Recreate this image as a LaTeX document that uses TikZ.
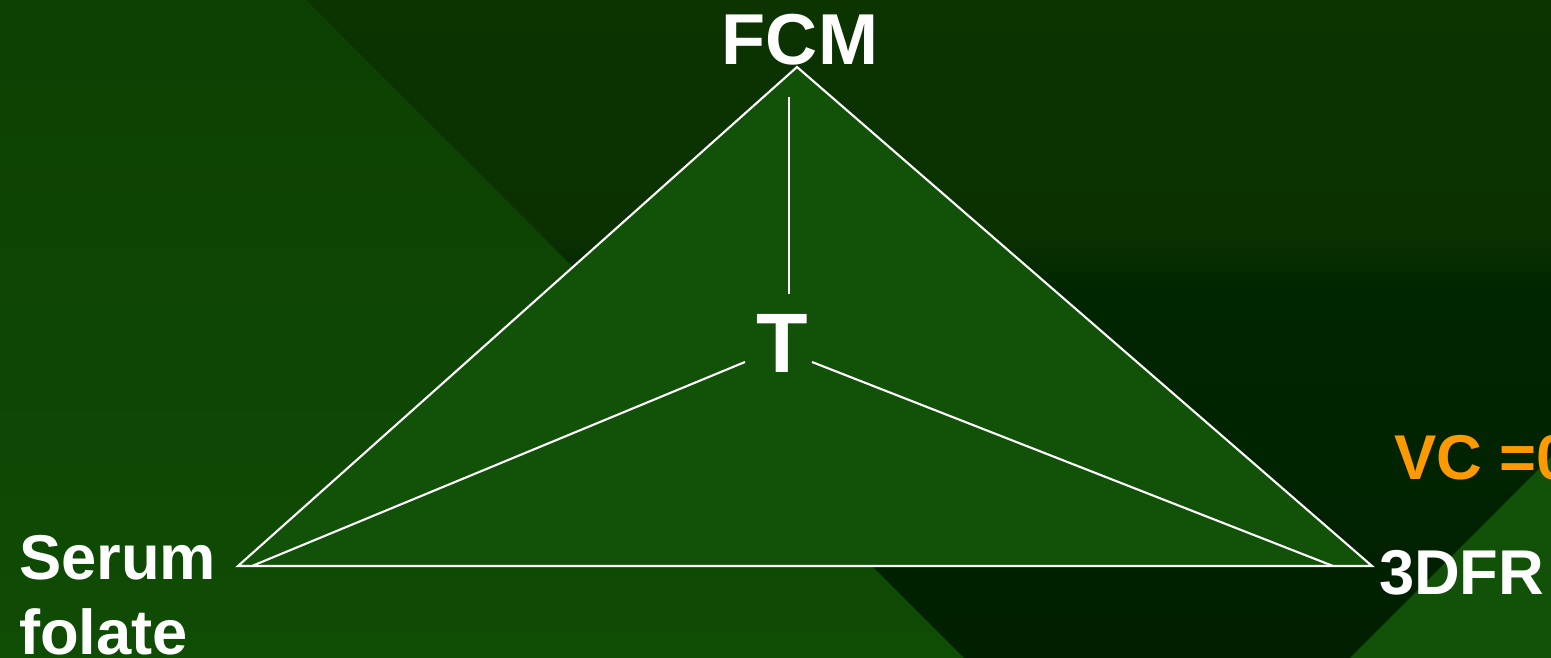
\documentclass[tikz,border=0pt]{standalone}
\usepackage{fontspec}
\setmainfont{Liberation Sans}
\definecolor{bgtop}{HTML}{0D4003}
\definecolor{bgbottom}{HTML}{0F4C04}
\definecolor{darktop}{HTML}{0C3802}
\definecolor{darkmid}{HTML}{0B3101}
\definecolor{deeptop}{HTML}{002600}
\definecolor{deepbottom}{HTML}{001A00}
\definecolor{trigreen}{HTML}{115208}
\definecolor{vcorange}{HTML}{FF9900}
% dark wedge: green on top, near black below (stops in percent of height)
\pgfdeclareverticalshading{wedgeshade}{100bp}{color(0bp)=(deepbottom); color(52.9bp)=(deeptop);
  color(57.4bp)=(darkmid); color(100bp)=(darktop)}

\begin{document}
\begin{tikzpicture}[x=0.01cm, y=-0.01cm, line width=0.6pt,
  lbl/.style={text=white, inner sep=0pt, font=\bfseries\fontsize{18}{21.6}\selectfont},
  edge/.style={draw=white, line width=0.6pt}]
  % canvas (1551 x 658)
  \clip (0,0) rectangle (1551,658);
  \shade[top color=bgtop, bottom color=bgbottom] (0,0) rectangle (1551,658);
  % dark wedge on the right
  \shade[shading=wedgeshade]
    (306,0) -- (1551,0) -- (1551,457) -- (1350,658) -- (964,658) -- cycle;
  % light corner, bottom right
  \fill[trigreen] (1350,658) -- (1551,457) -- (1551,658) -- cycle;
  % the triangle
  \coordinate (apex) at (797,67);
  \coordinate (lft) at (238,566);
  \coordinate (rgt) at (1372,566);
  \filldraw[fill=trigreen, edge] (apex) -- (lft) -- (rgt) -- cycle;
  % labels
  \node[lbl, font=\bfseries\fontsize{20.5}{24}\selectfont, anchor=base] (fcm) at (800,65) {FCM};
  \node[lbl, font=\bfseries\fontsize{24}{28}\selectfont, anchor=base] (t) at (782,373) {T};
  \node[lbl, anchor=base west, align=left] (serum) at (18,655) {Serum\\folate};
  \node[lbl, anchor=base west] (dfr) at (1378,595) {3DFR};
  \node[lbl, text=vcorange, anchor=base west] (vc) at (1393,480) {VC =0};
  % spokes out of T
  \coordinate (fcm-foot) at (789,97);
  \coordinate (t-head) at (789,294);
  \coordinate (t-left) at (745,362);
  \coordinate (t-right) at (812,362);
  \coordinate (lft-in) at (252,566);
  \coordinate (rgt-in) at (1333,566);
  \draw[edge] (t-head) -- (fcm-foot);
  \draw[edge] (t-left) -- (lft-in);
  \draw[edge] (t-right) -- (rgt-in);
\end{tikzpicture}
\end{document}
